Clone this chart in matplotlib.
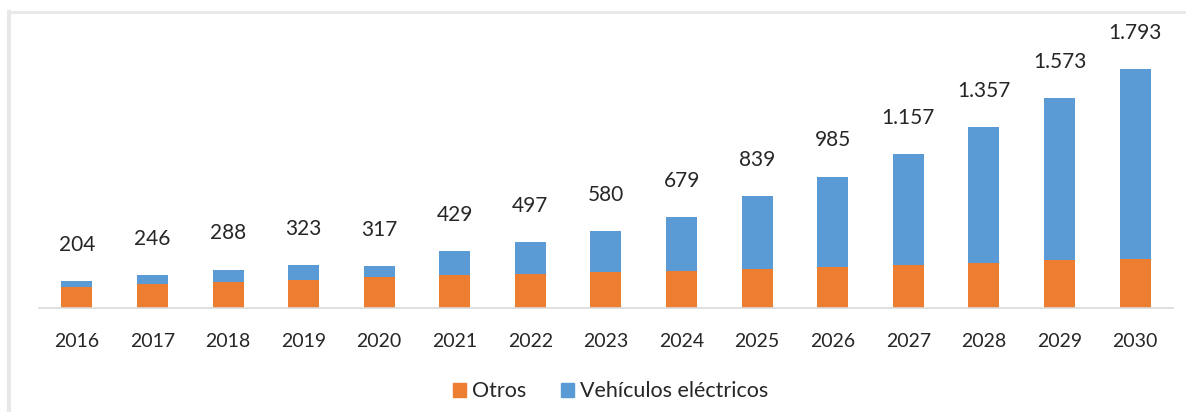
import matplotlib
matplotlib.use("Agg")
import matplotlib.pyplot as plt
from matplotlib.lines import Line2D
from matplotlib.patches import Patch
import numpy as np

years = ["2016", "2017", "2018", "2019", "2020", "2021", "2022", "2023",
         "2024", "2025", "2026", "2027", "2028", "2029", "2030"]
totals = [204, 246, 288, 323, 317, 429, 497, 580, 679, 839, 985, 1157, 1357, 1573, 1793]
otros = [157, 183, 195, 213, 232, 245, 258, 270, 277, 290, 307, 322, 340, 357, 370]
total_labels = ["204", "246", "288", "323", "317", "429", "497", "580", "679",
                "839", "985", "1.157", "1.357", "1.573", "1.793"]
vehiculos = [t - o for t, o in zip(totals, otros)]

ORANGE = "#ED7D31"
BLUE = "#5B9BD5"

plt.rcParams["font.family"] = ["Lato", "DejaVu Sans"]

fig = plt.figure(figsize=(11.86, 4.12), dpi=100)
ax = fig.add_axes([0.0329, 0.2524, 0.9561, 0.6986])

x = np.arange(len(years))
w = 0.41
ax.bar(x, otros, width=w, color=ORANGE, label="Otros")
ax.bar(x, vehiculos, width=w, bottom=otros, color=BLUE, label="Vehículos eléctricos")

for xi, t, lab in zip(x, totals, total_labels):
    ax.annotate(lab, (xi, t), xytext=(0, 26), textcoords="offset points",
                ha="center", va="center", fontsize=15, color="#262626")

ax.set_xlim(-0.5, len(years) - 0.5)
ax.set_ylim(0, 2157)
ax.set_xticks(x)
ax.set_xticklabels(years, fontsize=14, color="#262626")
ax.tick_params(axis="x", length=0, pad=18)
ax.set_yticks([])
for s in ["top", "right", "left"]:
    ax.spines[s].set_visible(False)
ax.spines["bottom"].set_color("#D9D9D9")
ax.spines["bottom"].set_linewidth(1.2)

handles = [Patch(color=ORANGE), Patch(color=BLUE)]
fig.legend(handles, ["Otros", "Vehículos eléctricos"], loc="center",
           bbox_to_anchor=(0.515, 0.05), ncol=2, frameon=False, fontsize=15.5,
           handlelength=0.6, handleheight=0.6, handletextpad=0.3, columnspacing=1.6,
           labelcolor="#262626")

# light frame on the top and left edges
fig.add_artist(Line2D([0.008, 0.008], [0.0, 0.972], color="#E8E8E8", lw=3,
                      transform=fig.transFigure))
fig.add_artist(Line2D([0.008, 1.0], [0.972, 0.972], color="#E8E8E8", lw=2,
                      transform=fig.transFigure))

fig.savefig("out.png", dpi=100)
